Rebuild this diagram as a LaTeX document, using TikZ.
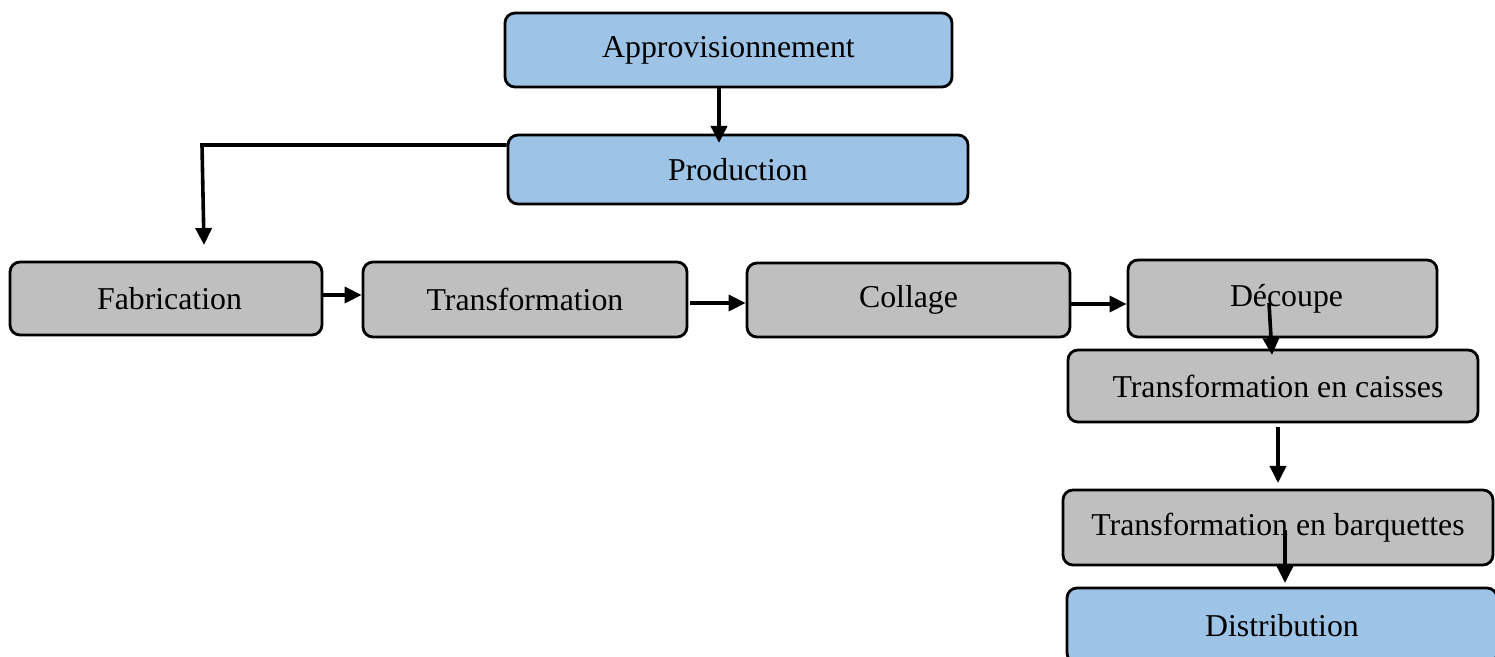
\documentclass[tikz,border=0pt]{standalone}
\usepackage{fontspec}
\setmainfont{Liberation Serif}
\usetikzlibrary{arrows.meta}
\definecolor{boxblue}{HTML}{9DC3E6}
\definecolor{boxgray}{HTML}{BFBFBF}
\tikzset{
  flowbox/.style={draw=black, line width=1.4pt, rounded corners=5pt, inner sep=0pt,
    font=\fontsize{15.9}{19}\selectfont},
  bluebox/.style={flowbox, fill=boxblue},
  graybox/.style={flowbox, fill=boxgray},
  arr/.style={line width=1.8pt, -{Triangle[length=8.5pt,width=8pt]}},
}
\begin{document}
\begin{tikzpicture}[x=0.5pt, y=-0.5pt]
\useasboundingbox (0,0) rectangle (1495,657);
\clip (0,0) rectangle (1495,657);
\fill[white] (0,0) rectangle (1495,657);
% nodes
\node[bluebox, minimum width=223.5pt, minimum height=37pt] (app) at (728.5,50) {Approvisionnement};
\node[bluebox, minimum width=230pt, minimum height=34.5pt] (prod) at (738,169.5) {Production};
\node[graybox, minimum width=156pt, minimum height=36.5pt] (fab) at (166,298.5) {\hspace*{3.5pt}Fabrication};
\node[graybox, minimum width=162pt, minimum height=37.5pt] (trans) at (525,299.5) {Transformation};
\node[graybox, minimum width=161.5pt, minimum height=37pt] (coll) at (908.5,300) {Collage};
\node[graybox, minimum width=154.5pt, minimum height=38.5pt] (dec) at (1282.5,298.5) {\hspace*{4pt}Découpe};
\node[graybox, minimum width=205pt, minimum height=36pt] (cai) at (1273,386) {\hspace*{5pt}Transformation en caisses};
\node[graybox, minimum width=215pt, minimum height=37.5pt] (barq) at (1278,527.5) {Transformation en barquettes};
\node[bluebox, minimum width=215pt, minimum height=37.5pt] (dist) at (1282,625.5) {Distribution};
% connector points
\coordinate (a1) at (719,143);
\coordinate (p1) at (202,145);
\coordinate (p2) at (204,245);
\coordinate (f1) at (322,295);
\coordinate (t1) at (690,303);
\coordinate (c1) at (1070,304);
\coordinate (d1) at (1269,303);
\coordinate (d2) at (1272,355);
\coordinate (k1) at (1278,427);
\coordinate (k2) at (1278,483);
\coordinate (b1) at (1285,530);
\coordinate (b2) at (1285,583);
% connectors
\draw[arr] (app.south -| a1) -- (a1);
\draw[arr] (prod.west |- p1) -- (p1) -- (p2);
\draw[arr] (fab.east |- f1) -- (trans.west |- f1);
\draw[arr] (t1) -- (coll.west |- t1);
\draw[arr] (coll.east |- c1) -- (dec.west |- c1);
\draw[arr] (d1) -- (d2);
\draw[arr] (k1) -- (k2);
\draw[arr] (b1) -- (b2);
\end{tikzpicture}
\end{document}
